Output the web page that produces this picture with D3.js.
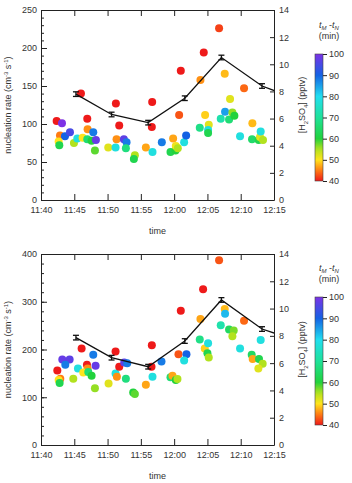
<!DOCTYPE html>
<html>
<head>
<meta charset="utf-8">
<script src="https://cdn.jsdelivr.net/npm/d3@7"></script>
<style>
  body { margin: 0; background: #fff; }
  svg { display: block; font-family: "Liberation Sans", Arial, Helvetica, sans-serif; }
  .axis text { font-size: 9px; fill: #333; }
  .axis path, .axis line { stroke: #222; }
  .lbl { font-size: 9px; fill: #333; }
</style>
</head>
<body>
<svg id="chart" width="352" height="483"></svg>
<script>
// tick labels
var timeTicks = ['11:40', '11:45', '11:50', '11:55', '12:00', '12:05', '12:10', '12:15'];
var rate1Ticks = [0, 50, 100, 150, 200, 250];
var rate2Ticks = [0, 100, 200, 300, 400];
var h2so4Ticks = [0, 2, 4, 6, 8, 10, 12, 14];
var delayTicks = [40, 50, 60, 70, 80, 90, 100];

// upper panel: nucleation rate points, coloured by t_M - t_N (min)
var p1Times = ['11:42:21', '11:43:09', '11:42:51', '11:43:36', '11:44:21', '11:42:39', '11:42:45', '11:44:57',
  '11:45:27', '11:46:15', '11:46:00', '11:46:57', '11:47:00', '11:46:57', '11:47:36', '11:47:51', '11:48:15',
  '11:48:06', '11:50:06', '11:51:12', '11:51:21', '11:51:45', '11:51:15', '11:52:27', '11:52:51', '11:52:45',
  '11:54:06', '11:53:57', '11:55:45', '11:56:45', '11:56:39', '11:56:42', '11:58:09', '11:59:27', '11:59:51',
  '12:00:12', '12:00:15', '12:00:33', '12:00:45', '12:01:00', '12:01:30', '12:01:48', '12:03:51', '12:03:57',
  '12:04:27', '12:04:39', '12:05:12', '12:05:06', '12:05:06', '12:06:45', '12:07:00', '12:07:36', '12:07:39',
  '12:08:15', '12:08:24', '12:08:45', '12:09:03', '12:09:54', '12:10:30', '12:11:45', '12:11:42', '12:12:42',
  '12:12:54', '12:13:00', '12:13:21'];
var p1Rates = [104, 101, 85, 84, 89, 77, 72, 75,
  81, 82, 140, 107, 93, 80, 78, 89, 79,
  65, 69, 69, 80, 98, 127, 80, 76, 68,
  59, 54, 69, 63, 96, 129, 76, 63, 81,
  65, 71, 68, 112, 170, 76, 85, 95, 158,
  194, 112, 99, 92, 88, 226, 107, 166, 116,
  106, 133, 115, 111, 84, 147, 101, 80, 79,
  83, 90, 79];
var p1Delay = [40, 100, 45, 90, 95, 50, 62, 55,
  78, 50, 40, 40, 46, 66, 60, 88, 98,
  58, 52, 78, 46, 40, 40, 97, 88, 67,
  55, 62, 47, 78, 40, 40, 88, 62, 47,
  60, 51, 55, 43, 40, 78, 90, 68, 46,
  40, 49, 52, 78, 62, 42, 72, 48, 85,
  66, 52, 56, 60, 78, 44, 48, 65, 62,
  52, 78, 55];
// upper panel: [H2SO4] means (pptv) with error bars
var p1LineTimes = ['11:45:15', '11:50:36', '11:56:06', '12:01:36', '12:07:06', '12:13:12', '12:18:42'];
var p1LineH2so4 = [7.8, 6.3, 5.7, 7.5, 10.5, 8.4, 7.4];
var p1LineErr = [0.17, 0.17, 0.17, 0.17, 0.17, 0.17, 0.17];

// lower panel
var p2Times = ['11:42:27', '11:43:12', '11:44:18', '11:43:39', '11:42:54', '11:42:39', '11:42:48', '11:44:51',
  '11:45:33', '11:46:06', '11:46:54', '11:47:00', '11:46:21', '11:47:06', '11:47:36', '11:47:51', '11:48:12',
  '11:48:06', '11:50:09', '11:51:12', '11:51:12', '11:51:24', '11:51:45', '11:52:30', '11:52:57', '11:52:45',
  '11:53:51', '11:54:06', '11:55:45', '11:56:45', '11:56:39', '11:56:36', '11:58:06', '11:59:27', '11:59:45',
  '12:00:15', '12:00:30', '12:00:39', '12:01:00', '12:01:51', '12:01:30', '12:03:51', '12:03:57', '12:04:21',
  '12:04:36', '12:05:06', '12:05:00', '12:05:12', '12:06:45', '12:07:00', '12:07:36', '12:07:39', '12:08:15',
  '12:08:57', '12:08:45', '12:09:54', '12:10:30', '12:11:39', '12:11:48', '12:12:45', '12:13:00', '12:13:18',
  '12:12:39'];
var p2Rates = [156, 179, 179, 168, 139, 136, 130, 139,
  160, 202, 168, 160, 152, 153, 145, 189, 166,
  119, 129, 196, 150, 143, 164, 173, 171, 139,
  110, 107, 126, 143, 209, 164, 175, 142, 145,
  136, 138, 190, 281, 190, 177, 221, 264, 326,
  202, 213, 192, 183, 387, 251, 285, 275, 242,
  240, 228, 202, 260, 189, 180, 180, 220, 170,
  160];
var p2Delay = [40, 98, 97, 88, 45, 50, 62, 55,
  78, 40, 40, 46, 50, 66, 60, 88, 98,
  56, 52, 40, 78, 46, 40, 97, 88, 67,
  60, 58, 47, 78, 40, 40, 88, 66, 47,
  60, 55, 43, 40, 90, 78, 68, 47, 40,
  49, 78, 62, 55, 43, 72, 48, 83, 64,
  57, 55, 78, 44, 64, 47, 62, 78, 55,
  52];
var p2LineTimes = ['11:45:15', '11:50:36', '11:56:06', '12:01:36', '12:07:06', '12:13:12', '12:18:42'];
var p2LineH2so4 = [7.87, 6.4, 5.74, 7.62, 10.63, 8.5, 7.6];
var p2LineErr = [0.17, 0.17, 0.17, 0.17, 0.17, 0.17, 0.17];

// colour map of the delay (rainbow, red = 40 min, purple = 100 min)
var delayStops = [40, 45, 50, 55, 60, 70, 80, 90, 100];
var delayColors = ['#ee1a1a', '#ff7b12', '#ffe41c', '#b2e21e', '#22d23c', '#1fe29a', '#22def0', '#1462e4', '#7c32e6'];

var parseTime = d3.timeParse('%H:%M:%S');
var color = d3.scaleLinear().domain(delayStops).range(delayColors).clamp(true);

var svg = d3.select('#chart');

// gradient for the colour bars
var grad = svg.append('defs').append('linearGradient')
  .attr('id', 'delayGrad')
  .attr('x1', 0).attr('y1', 1).attr('x2', 0).attr('y2', 0);
d3.range(40, 100.01, 2).forEach(function(v) {
  grad.append('stop')
    .attr('offset', ((v - 40) / 60 * 100) + '%')
    .attr('stop-color', color(v));
});

var X0 = 41, X1 = 274;

function drawPanel(o) {
  var g = svg.append('g');

  var x = d3.scaleTime()
    .domain([parseTime('11:40:00'), parseTime('12:15:00')])
    .range([X0, X1]);
  var y = d3.scaleLinear().domain([0, o.rateMax]).range([o.bottom, o.top]);
  var y2 = d3.scaleLinear().domain([0, 14]).range([o.bottom, o.top]);

  svg.select('defs').append('clipPath').attr('id', 'clip' + o.id)
    .append('rect')
    .attr('x', X0).attr('y', o.top)
    .attr('width', X1 - X0).attr('height', o.bottom - o.top);

  // scatter dots
  var pts = o.times.map(function(t, i) {
    return {t: parseTime(t), v: o.rates[i], c: o.delay[i]};
  });
  g.append('g').selectAll('circle')
    .data(pts)
    .enter().append('circle')
    .attr('cx', function(d) { return x(d.t); })
    .attr('cy', function(d) { return y(d.v); })
    .attr('r', 4)
    .style('fill', function(d) { return color(d.c); });

  // [H2SO4] line with error bars
  var mean = o.lineTimes.map(function(t, i) {
    return {t: parseTime(t), v: o.lineVals[i], e: o.lineErr[i]};
  });
  var lg = g.append('g').attr('clip-path', 'url(#clip' + o.id + ')');
  lg.append('path')
    .datum(mean)
    .attr('fill', 'none')
    .attr('stroke', '#111')
    .attr('stroke-width', 1.3)
    .attr('d', d3.line()
      .x(function(d) { return x(d.t); })
      .y(function(d) { return y2(d.v); }));
  var eb = lg.selectAll('.eb')
    .data(mean)
    .enter().append('g')
    .attr('class', 'eb')
    .attr('stroke', '#111')
    .attr('stroke-width', 1.3);
  eb.append('line')
    .attr('x1', function(d) { return x(d.t); })
    .attr('x2', function(d) { return x(d.t); })
    .attr('y1', function(d) { return y2(d.v - d.e); })
    .attr('y2', function(d) { return y2(d.v + d.e); });
  [-1, 1].forEach(function(s) {
    eb.append('line')
      .attr('x1', function(d) { return x(d.t) - 3; })
      .attr('x2', function(d) { return x(d.t) + 3; })
      .attr('y1', function(d) { return y2(d.v + s * d.e); })
      .attr('y2', function(d) { return y2(d.v + s * d.e); });
  });

  // axes, ticks pointing inwards
  var tv = timeTicks.map(function(s) { return parseTime(s + ':00'); });
  g.append('g').attr('class', 'axis')
    .attr('transform', 'translate(0,' + o.bottom + ')')
    .call(d3.axisBottom(x).tickValues(tv).tickFormat(d3.timeFormat('%H:%M'))
      .tickSizeInner(-6).tickSizeOuter(0).tickPadding(7));
  g.append('g').attr('class', 'axis')
    .attr('transform', 'translate(0,' + o.top + ')')
    .call(d3.axisTop(x).tickValues(tv).tickFormat('')
      .tickSizeInner(-6).tickSizeOuter(0));
  g.append('g').attr('class', 'axis')
    .attr('transform', 'translate(' + X0 + ',0)')
    .call(d3.axisLeft(y).tickValues(d3.range(0, o.rateMax + 1, o.minor)).tickFormat('')
      .tickSizeInner(-3).tickSizeOuter(0));
  g.append('g').attr('class', 'axis')
    .attr('transform', 'translate(' + X0 + ',0)')
    .call(d3.axisLeft(y).tickValues(o.rateTicks).tickFormat(d3.format('d'))
      .tickSizeInner(-6).tickSizeOuter(0).tickPadding(4));
  g.append('g').attr('class', 'axis')
    .attr('transform', 'translate(' + X1 + ',0)')
    .call(d3.axisRight(y2).tickValues(h2so4Ticks)
      .tickSizeInner(-4).tickSizeOuter(0).tickPadding(5));

  var midY = (o.top + o.bottom) / 2;

  // axis titles
  var yl = g.append('text').attr('class', 'lbl')
    .attr('transform', 'translate(11,' + midY + ') rotate(-90)')
    .attr('text-anchor', 'middle');
  yl.append('tspan').text('nucleation rate (cm');
  yl.append('tspan').attr('dy', -3.5).attr('font-size', '6px').text('-3');
  yl.append('tspan').attr('dy', 3.5).text(' s');
  yl.append('tspan').attr('dy', -3.5).attr('font-size', '6px').text('-1');
  yl.append('tspan').attr('dy', 3.5).text(')');

  var rl = g.append('text').attr('class', 'lbl')
    .attr('transform', 'translate(305,' + midY + ') rotate(-90)')
    .attr('text-anchor', 'middle');
  rl.append('tspan').text('[H');
  rl.append('tspan').attr('dy', 2.5).attr('font-size', '6px').text('2');
  rl.append('tspan').attr('dy', -2.5).text('SO');
  rl.append('tspan').attr('dy', 2.5).attr('font-size', '6px').text('4');
  rl.append('tspan').attr('dy', -2.5).text('] (pptv)');

  g.append('text').attr('class', 'lbl')
    .attr('x', (X0 + X1) / 2).attr('y', o.bottom + 34)
    .attr('text-anchor', 'middle')
    .text('time');

  // colour bar
  var cb = d3.scaleLinear().domain([40, 100]).range([o.cbBottom, o.cbTop]);
  g.append('rect')
    .attr('x', 315).attr('y', o.cbTop)
    .attr('width', 8).attr('height', o.cbBottom - o.cbTop)
    .attr('fill', 'url(#delayGrad)')
    .attr('stroke', '#444').attr('stroke-width', 0.6);
  var cba = g.append('g').attr('class', 'axis')
    .attr('transform', 'translate(323,0)')
    .call(d3.axisRight(cb).tickValues(delayTicks).tickSizeInner(4).tickSizeOuter(0).tickPadding(2));
  cba.select('.domain').remove();

  var tt = g.append('text').attr('class', 'lbl')
    .attr('x', 329).attr('y', o.cbTop - 26)
    .attr('text-anchor', 'middle');
  tt.append('tspan').attr('font-style', 'italic').text('t');
  tt.append('tspan').attr('font-style', 'italic').attr('font-size', '6px').attr('dy', 2).text('M');
  tt.append('tspan').attr('dy', -2).text(' -');
  tt.append('tspan').attr('font-style', 'italic').text('t');
  tt.append('tspan').attr('font-style', 'italic').attr('font-size', '6px').attr('dy', 2).text('N');
  g.append('text').attr('class', 'lbl')
    .attr('x', 329).attr('y', o.cbTop - 15)
    .attr('text-anchor', 'middle')
    .text('(min)');
}

drawPanel({
  id: 1, top: 10, bottom: 200, rateMax: 250, minor: 10, rateTicks: rate1Ticks,
  times: p1Times, rates: p1Rates, delay: p1Delay,
  lineTimes: p1LineTimes, lineVals: p1LineH2so4, lineErr: p1LineErr,
  cbTop: 54, cbBottom: 181
});
drawPanel({
  id: 2, top: 254, bottom: 445, rateMax: 400, minor: 20, rateTicks: rate2Ticks,
  times: p2Times, rates: p2Rates, delay: p2Delay,
  lineTimes: p2LineTimes, lineVals: p2LineH2so4, lineErr: p2LineErr,
  cbTop: 297, cbBottom: 425
});
</script>
</body>
</html>
